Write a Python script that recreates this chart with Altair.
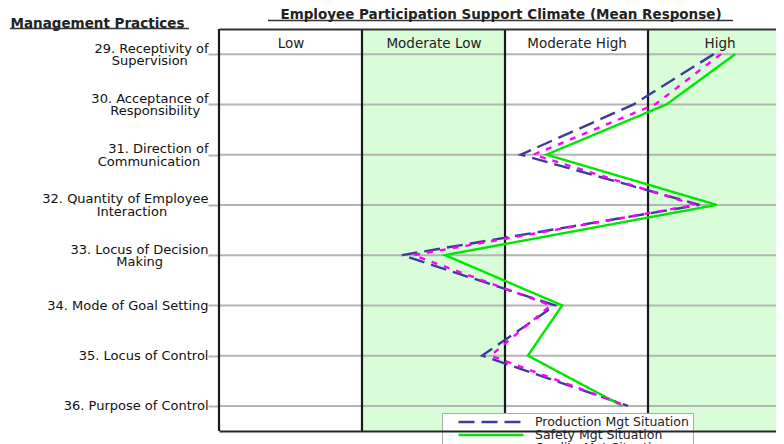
import json
import altair as alt
import pandas as pd

# ---------------- data ----------------
practices = [
    "29. Receptivity of|Supervision",
    "30. Acceptance of|Responsibility",
    "31. Direction of|Communication",
    "32. Quantity of Employee|Interaction",
    "33. Locus of Decision|Making",
    "34. Mode of Goal Setting",
    "35. Locus of Control",
    "36. Purpose of Control",
]
production = [4.46, 3.90, 3.11, 4.36, 2.28, 3.35, 2.84, 3.86]
safety = [4.61, 4.13, 3.29, 4.48, 2.58, 3.40, 3.16, 3.82]
quality = [4.51, 4.05, 3.20, 4.33, 2.36, 3.32, 2.90, 3.85]

series_names = ["Production Mgt Situation", "Safety Mgt Situation", "Quality Mgt Situation"]
series_colors = ["#3d3d99", "#00e600", "#ff00ff"]
series_dashes = [[16, 7], [1, 0], [6, 7]]

levels = ["Low", "Moderate Low", "Moderate High", "High"]
level_lo = [1, 2, 3, 4]
level_hi = [2, 3, 4, 5]
level_shaded = [False, True, False, True]

title_text = "Employee Participation Support Climate (Mean Response)"
row_axis_title = "Management Practices"

FONT = "DejaVu Sans"
NBSP = "\u00a0"
ZWSP = "\u200b"

rows = []
for name, vals in zip(series_names, [production, safety, quality]):
    for i, (p, v) in enumerate(zip(practices, vals)):
        rows.append({"series": name, "practice": p, "idx": i, "value": v})
lines_df = pd.DataFrame(rows)
bands_df = pd.DataFrame({"level": levels, "lo": level_lo, "hi": level_hi, "shaded": level_shaded})
practice_df = pd.DataFrame({"practice": practices})
bounds_df = pd.DataFrame({"b": level_lo})
one_df = pd.DataFrame({"k": [0]})

x_scale = alt.Scale(domain=[1, 4.895], nice=False, zero=False)
y_scale = alt.Scale(type="point", domain=practices, padding=0.5)

level_expr = json.dumps(levels) + "[floor(datum.value) - 1]"

# two-line labels: second line roughly centred under the first
# (trailing no-break spaces, closed by a zero-width space so they are not trimmed)
P0 = "split(datum.label, '|')[0]"
P1 = "split(datum.label, '|')[1]"
row_label_expr = (
    f"length(split(datum.label, '|')) > 1 ? "
    f"[{P0}, pad({P1}, length({P1}) + round(0.75 * (length({P0}) - length({P1}))), '{NBSP}', 'right') + '{ZWSP}'] "
    f": datum.label"
)

y_axis = alt.Axis(
    title=row_axis_title, titleAngle=0, titleAlign="left", titleBaseline="alphabetic",
    titleX=-209, titleY=-2, titleFont=FONT, titleFontSize=13.5, titleFontWeight="bold",
    titleColor="#222",
    labelExpr=row_label_expr, labelFont=FONT, labelFontSize=13,
    labelColor="#111", labelAlign="right", labelBaseline="middle", labelLineHeight=12.5,
    labelOffset={"condition": {"test": "indexof(datum.label, '|') >= 0", "value": -6}, "value": 0},
    labelLimit=400, labelPadding=0, tickSize=11, tickColor="#b4b4b4", tickWidth=2,
    domain=False, grid=False, orient="left",
)

bands = (
    alt.Chart(bands_df)
    .transform_filter("datum.shaded")
    .mark_rect(color="#d9fcd9", clip=True)
    .encode(
        x=alt.X("lo:Q", scale=x_scale,
                axis=alt.Axis(orient="bottom", labels=False, ticks=False, tickSize=0, grid=False,
                              domain=True, domainColor="#262626", domainWidth=2, title=None, zindex=1)),
        x2="hi:Q",
    )
)

hlines = (
    alt.Chart(practice_df)
    .mark_rule(color="#b4b4b4", strokeWidth=2)
    .encode(y=alt.Y("practice:N", scale=y_scale, sort=practices, axis=y_axis))
)

vlines = (
    alt.Chart(bounds_df)
    .mark_rule(color="#1a1a1a", strokeWidth=2.2)
    .encode(
        x=alt.X("b:Q", scale=x_scale,
                axis=alt.Axis(orient="top", values=[1.5, 2.5, 3.5, 4.5], labelExpr=level_expr,
                              ticks=False, tickSize=0, grid=False, domain=True, domainColor="#333333",
                              domainWidth=2, labelPadding=-14, labelBaseline="middle",
                              labelFont=FONT, labelFontSize=13.5, labelColor="#222",
                              title=title_text, titleFont=FONT, titleFontSize=13.5, titleFontWeight="bold",
                              titleColor="#222", titleAngle=0, titleAlign="center",
                              titleBaseline="alphabetic", titleX=281.5, titleY=-10.5,
                              zindex=1, labelFlush=False, labelOverlap=False)),
    )
)

legend = alt.Legend(
    title=None, orient="none", legendX=223, legendY=384, symbolType="stroke", symbolSize=4225,
    symbolStrokeWidth=2.5, labelFont=FONT, labelFontSize=12.5, labelColor="#222", labelOffset=10,
    fillColor="white", strokeColor="#aaaaaa", padding=4, rowPadding=0, symbolOffset=11,
    clipHeight=10,
)

lines = (
    alt.Chart(lines_df)
    .mark_line(strokeWidth=2.4)
    .encode(
        x=alt.X("value:Q", scale=x_scale, axis=None),
        y=alt.Y("practice:N", scale=y_scale, sort=practices, axis=y_axis),
        color=alt.Color("series:N", scale=alt.Scale(domain=series_names, range=series_colors), legend=legend),
        strokeDash=alt.StrokeDash("series:N", scale=alt.Scale(domain=series_names, range=series_dashes),
                                  legend=legend),
        order=alt.Order("idx:Q"),
    )
)

ul_title = alt.Chart(one_df).mark_rule(color="#333", strokeWidth=1.5).encode(
    x=alt.value(49), x2=alt.value(514), y=alt.value(-8.5))
ul_axis = alt.Chart(one_df).mark_rule(color="#333", strokeWidth=1.5).encode(
    x=alt.value(-209), x2=alt.value(-30), y=alt.value(-0.5))

chart = (
    alt.layer(bands, hlines, vlines, lines, ul_title, ul_axis)
    .resolve_axis(x="independent")
    .properties(
        width=557, height=402,
        autosize=alt.AutoSizeParams(type="none"),
        padding={"left": 211, "top": 21, "right": 0, "bottom": 13},
        background="white",
    )
    .configure_view(stroke=None)
)

chart.save("out.html", embed_options={"renderer": "svg", "actions": False})
